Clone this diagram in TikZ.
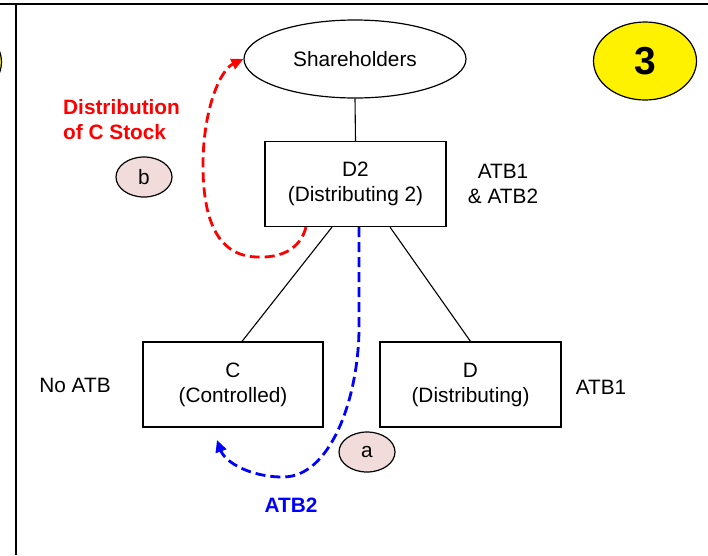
\documentclass[tikz,border=0pt]{standalone}
\usepackage{fontspec}
\setmainfont{Liberation Sans}
\usetikzlibrary{shapes.geometric,arrows.meta,calc}
\begin{document}
\begin{tikzpicture}[x=1pt,y=-1pt,
  every node/.style={font=\fontsize{20.8}{25}\selectfont},
  entity/.style={draw, line width=1.2pt, minimum width=181pt, minimum height=85pt, inner sep=0pt, align=center},
  oval/.style={draw, ellipse, line width=1.2pt, inner sep=0pt},
  tag/.style={oval, fill=pinkfill, minimum width=56pt, minimum height=40pt},
  link/.style={line width=1.1pt},
  flowred/.style={draw=red, line width=2.8pt, dash pattern=on 10pt off 5pt, -{Triangle[length=12pt,width=11pt]}},
  flowblue/.style={draw=blue, line width=2.8pt, dash pattern=on 10pt off 5pt, -{Triangle[length=12pt,width=11pt]}},
  lbl/.style={align=center, inner sep=0pt}
]
\definecolor{pinkfill}{RGB}{242,220,219}
\useasboundingbox (0,0) rectangle (708,555);
\clip (0,0) rectangle (708,555);

% frame
\draw[line width=2pt] (0,4) -- (708,4);
\draw[line width=2pt] (16,4) -- (16,555);

% partial yellow circle at the left edge
\node[oval, fill=yellow, minimum width=103pt, minimum height=78pt] (prev) at (-50,62) {};

% numbered circle
\node[oval, fill=yellow, minimum width=103pt, minimum height=78pt,
      font=\fontsize{39}{40}\selectfont\bfseries] (num) at (645,61) {3};

% main nodes
\node[oval, minimum width=222pt, minimum height=78pt] (sh) at (355,59) {Shareholders};
\node[entity] (D2) at (355.5,184) {D2\\(Distributing 2)};
\node[entity, minimum width=180pt] (C) at (233,384.5) {C\\(Controlled)};
\node[entity] (D) at (470.5,384.5) {D\\(Distributing)};

% side labels
\node[lbl] (l12) at (503,184) {ATB1\\\& ATB2};
\node[lbl] (lno) at (75,385) {No ATB};
\node[lbl] (l1) at (601,387) {ATB1};
\node[lbl, text=blue, font=\fontsize{20.8}{25}\selectfont\bfseries] (l2) at (291,505) {ATB2};
\node[lbl, align=left, anchor=west, text=red, font=\fontsize{20.8}{25}\selectfont\bfseries] (ldist) at (63,120) {Distribution\\of C Stock};

% tags
\node[tag] (tb) at (144,177) {b};
\node[tag] (ta) at (367,452) {a};

% structure lines
\draw[link] (sh.south) -- (D2.north);
\draw[link] ($(D2.south)+(-23.5,0)$) -- ($(C.north)+(9,0)$);
\draw[link] ($(D2.south)+(34.5,0)$) -- (D.north);

% red distribution arrow
\coordinate (rs) at ($(D2.south)+(-49.5,0)$);
\draw[flowred] (rs) .. controls (300,250) and (280,258) .. (257,257)
   .. controls (215,256) and (203,215) .. (203,165)
   .. controls (203,110) and (220,70) .. (sh.west);

% blue ATB2 arrow
\coordinate (bs) at ($(D2.south)+(3.5,0)$);
\coordinate (be) at (217,440);
\draw[flowblue] (bs) -- (359,330) .. controls (358,400) and (330,477) .. (283,477)
   .. controls (250,477) and (225,462) .. (be);
\end{tikzpicture}
\end{document}
